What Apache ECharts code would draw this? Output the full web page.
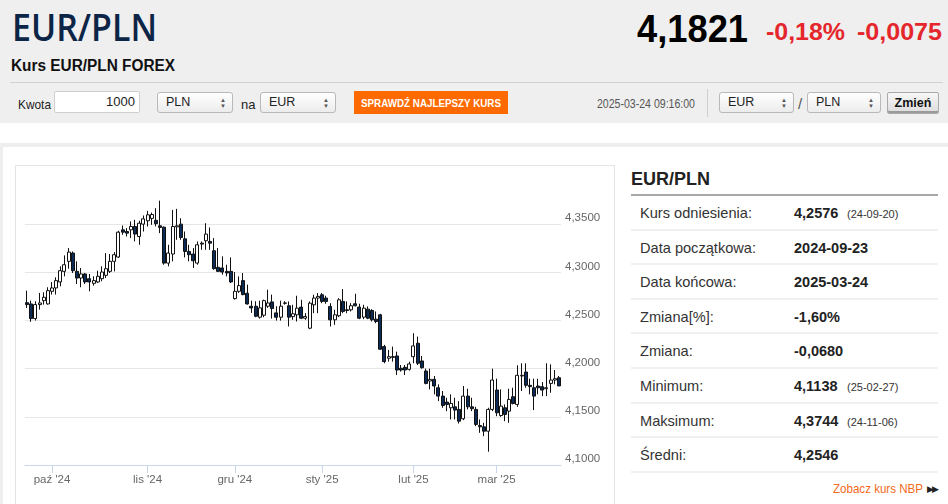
<!DOCTYPE html>
<html><head><meta charset="utf-8">
<script src="https://cdn.jsdelivr.net/npm/echarts/dist/echarts.min.js"></script>
<style>
html,body{margin:0;padding:0;}
body{width:948px;height:504px;overflow:hidden;position:relative;background:#fff;font-family:'Liberation Sans',Arial,sans-serif;color:#222;}
.a{position:absolute;white-space:nowrap;line-height:1;transform-origin:0 0;}
.sel{position:absolute;height:21px;box-sizing:border-box;border:1px solid #b9b9b9;border-radius:3px;background:linear-gradient(#ffffff,#ececec);font-size:12.5px;line-height:19px;padding-left:8px;color:#222;}
.sel .ar{position:absolute;right:6px;top:4px;font-size:6px;line-height:6px;color:#555;}
.row{position:absolute;left:631px;width:307px;height:34.6px;border-bottom:2px solid #f0f0f0;box-sizing:border-box;}
.row .l{position:absolute;left:9px;top:0;line-height:34px;font-size:14.6px;color:#333;}
.row .v{position:absolute;left:163px;top:0;line-height:34px;font-size:14.5px;font-weight:bold;color:#222;}
.row .s{position:absolute;left:216px;top:1px;line-height:34px;font-size:11px;color:#333;}
</style></head>
<body>
<div style="position:absolute;left:0;top:0;width:948px;height:123px;background:#efefef;"></div>
<div class="a fit" data-w="145" style="left:12px;top:8.4px;font-family:'Open Sans','Liberation Sans',sans-serif;font-size:37.5px;font-weight:600;color:#0c2446;">EUR/PLN</div>
<div class="a fit" data-w="111" style="left:637px;top:9px;font-size:39px;font-weight:bold;color:#000;">4,1821</div>
<div class="a fit" data-w="79" style="left:766px;top:20.5px;font-size:23px;font-weight:bold;color:#e5262d;">-0,18%</div>
<div class="a fit" data-w="85" style="left:857px;top:20.5px;font-size:23px;font-weight:bold;color:#e5262d;">-0,0075</div>
<div class="a fit" data-w="164" style="left:11px;top:57.5px;font-size:16px;font-weight:bold;color:#111;">Kurs EUR/PLN FOREX</div>
<div style="position:absolute;left:10px;top:82px;width:933px;height:1px;background:#d2d2d2;"></div>

<div class="a fit" data-w="33" style="left:18px;top:98px;font-size:13px;color:#222;">Kwota</div>
<div style="position:absolute;left:54px;top:91px;width:86px;height:22px;box-sizing:border-box;border:1px solid #cfcfcf;border-radius:2px;background:#fff;font-size:13px;line-height:20px;text-align:right;padding-right:4px;">1000</div>
<div class="sel" style="left:157px;top:92px;width:76px;">PLN<span class="ar">&#9650;<br>&#9660;</span></div>
<div class="a" style="left:241px;top:98px;font-size:13px;color:#222;">na</div>
<div class="sel" style="left:260px;top:92px;width:76px;">EUR<span class="ar">&#9650;<br>&#9660;</span></div>
<div style="position:absolute;left:354px;top:91px;width:154px;height:23px;background:#ff6a00;"></div>
<div class="a fit" data-w="140" style="left:361px;top:98px;font-size:11.5px;font-weight:bold;color:#fff;">SPRAWDŹ NAJLEPSZY KURS</div>
<div class="a fit" data-w="98" style="left:597px;top:98px;font-size:12px;color:#555;">2025-03-24 09:16:00</div>
<div style="position:absolute;left:707px;top:89px;width:1px;height:28px;background:#cfcfcf;"></div>
<div class="sel" style="left:719px;top:92px;width:75px;">EUR<span class="ar">&#9650;<br>&#9660;</span></div>
<div class="a" style="left:798px;top:96px;font-size:15px;color:#555;">/</div>
<div class="sel" style="left:807px;top:92px;width:74px;">PLN<span class="ar">&#9650;<br>&#9660;</span></div>
<div style="position:absolute;left:887px;top:92px;width:52px;height:22px;box-sizing:border-box;border:1px solid #aaa;border-radius:2px;background:linear-gradient(#f7f7f7,#dcdcdc);box-shadow:inset 0 -2px 0 #9a9a9a;font-size:12.5px;font-weight:bold;line-height:20px;text-align:center;color:#111;">Zmień</div>

<div style="position:absolute;left:0;top:143px;width:948px;height:4px;background:#eeeeee;"></div>
<div style="position:absolute;left:0;top:143px;width:3px;height:361px;background:#eeeeee;"></div>
<div style="position:absolute;left:15px;top:165px;width:600px;height:360px;box-sizing:border-box;border:1px solid #e4e4e4;"></div>
<div id="chart" style="position:absolute;left:16px;top:167px;width:598px;height:337px;"></div>

<div class="a" style="left:631px;top:169.8px;font-size:18px;font-weight:bold;color:#222;">EUR/PLN</div>
<div style="position:absolute;left:631px;top:194px;width:307px;height:2px;background:#a8a8a8;"></div>
<div id="tbl"></div>
<div class="a fit" data-w="90" style="left:833px;top:483px;font-size:12.8px;color:#f26a1b;">Zobacz kurs NBP</div>
<div class="a" style="left:927px;top:485px;font-size:9px;color:#222;letter-spacing:-2px;">&#9654;&#9654;</div>

<script>
// ---------- data ----------
const dates = [
"2024-09-23","2024-09-24","2024-09-25","2024-09-26","2024-09-27","2024-09-30",
"2024-10-01","2024-10-02","2024-10-03","2024-10-04","2024-10-07","2024-10-08","2024-10-09","2024-10-10","2024-10-11",
"2024-10-14","2024-10-15","2024-10-16","2024-10-17","2024-10-18","2024-10-21","2024-10-22","2024-10-23","2024-10-24","2024-10-25",
"2024-10-28","2024-10-29","2024-10-30","2024-10-31",
"2024-11-01","2024-11-04","2024-11-05","2024-11-06","2024-11-07","2024-11-08","2024-11-11","2024-11-12","2024-11-13","2024-11-14","2024-11-15",
"2024-11-18","2024-11-19","2024-11-20","2024-11-21","2024-11-22","2024-11-25","2024-11-26","2024-11-27","2024-11-28","2024-11-29",
"2024-12-02","2024-12-03","2024-12-04","2024-12-05","2024-12-06","2024-12-09","2024-12-10","2024-12-11","2024-12-12","2024-12-13",
"2024-12-16","2024-12-17","2024-12-18","2024-12-19","2024-12-20","2024-12-23","2024-12-24","2024-12-26","2024-12-27","2024-12-30","2024-12-31",
"2025-01-02","2025-01-03","2025-01-06","2025-01-07","2025-01-08","2025-01-09","2025-01-10","2025-01-13","2025-01-14","2025-01-15","2025-01-16","2025-01-17",
"2025-01-20","2025-01-21","2025-01-22","2025-01-23","2025-01-24","2025-01-27","2025-01-28","2025-01-29","2025-01-30","2025-01-31",
"2025-02-03","2025-02-04","2025-02-05","2025-02-06","2025-02-07","2025-02-10","2025-02-11","2025-02-12","2025-02-13","2025-02-14",
"2025-02-17","2025-02-18","2025-02-19","2025-02-20","2025-02-21","2025-02-24","2025-02-25","2025-02-26","2025-02-27","2025-02-28",
"2025-03-03","2025-03-04","2025-03-05","2025-03-06","2025-03-07","2025-03-10","2025-03-11","2025-03-12","2025-03-13","2025-03-14",
"2025-03-17","2025-03-18","2025-03-19","2025-03-20","2025-03-21","2025-03-24"];

const opens = [
4.2685,4.2672,4.2520,4.2665,4.2706,4.2672,4.2803,4.2838,4.2900,4.3010,
4.3114,4.3200,4.3010,4.2941,4.2983,4.2934,4.2886,4.2900,4.2934,4.2969,
4.3010,4.3114,4.3159,4.3441,4.3424,4.3441,4.3476,4.3372,4.3500,4.3535,
4.3560,4.3540,4.3483,4.3469,4.3096,4.3190,4.3472,4.3500,4.3348,4.3217,
4.3190,4.3096,4.3303,4.3328,4.3321,4.3224,4.3052,4.3045,4.3010,4.3010,
4.2727,4.2803,4.2914,4.2783,4.2648,4.2648,4.2534,4.2555,4.2648,4.2693,
4.2579,4.2534,4.2682,4.2653,4.2540,4.2559,4.2639,4.2524,4.2420,4.2663,
4.2733,4.2767,4.2733,4.2646,4.2507,4.2549,4.2698,4.2611,4.2611,4.2674,
4.2639,4.2535,4.2618,4.2604,4.2514,4.2559,4.2229,4.2108,4.2125,4.2132,
4.2004,4.2014,4.1993,4.2125,4.2264,4.2080,4.1976,4.1872,4.1889,4.1802,
4.1715,4.1653,4.1594,4.1604,4.1577,4.1480,4.1715,4.1604,4.1577,4.1410,
4.1396,4.1351,4.1577,4.1778,4.1514,4.1594,4.1559,4.1709,4.1629,4.1924,
4.1965,4.1827,4.1802,4.1820,4.1813,4.1792,4.1847,4.1882,4.1906];

const highs = [
4.2810,4.2706,4.2700,4.2786,4.2793,4.2845,4.2900,4.2948,4.3062,4.3176,
4.3252,4.3217,4.3114,4.3045,4.2993,4.2983,4.2959,4.3017,4.3062,4.3200,
4.3190,4.3210,4.3431,4.3486,4.3459,4.3528,4.3545,4.3535,4.3590,4.3638,
4.3620,4.3666,4.3744,4.3476,4.3286,4.3648,4.3659,4.3562,4.3424,4.3286,
4.3252,4.3320,4.3320,4.3510,4.3466,4.3355,4.3252,4.3166,4.3079,4.3155,
4.3003,4.2958,4.2993,4.2872,4.2706,4.2700,4.2706,4.2717,4.2820,4.2769,
4.2648,4.2706,4.2700,4.2698,4.2663,4.2757,4.2715,4.2576,4.2698,4.2767,
4.2785,4.2785,4.2757,4.2680,4.2611,4.2732,4.2826,4.2698,4.2680,4.2778,
4.2674,4.2663,4.2646,4.2618,4.2594,4.2569,4.2247,4.2195,4.2229,4.2177,
4.2038,4.2038,4.2073,4.2368,4.2333,4.2132,4.2000,4.2000,4.1924,4.1837,
4.1768,4.1698,4.1733,4.1698,4.1663,4.1820,4.1792,4.1698,4.1604,4.1473,
4.1438,4.1594,4.2000,4.1896,4.1785,4.1629,4.1792,4.1802,4.2035,4.2056,
4.2056,4.1896,4.1896,4.1896,4.1861,4.2056,4.2045,4.1986,4.1924];

const lows = [
4.2630,4.2486,4.2500,4.2613,4.2665,4.2665,4.2769,4.2769,4.2855,4.2958,
4.3038,4.2993,4.2879,4.2845,4.2879,4.2803,4.2862,4.2889,4.2907,4.2941,
4.2993,4.3010,4.3148,4.3390,4.3372,4.3355,4.3321,4.3286,4.3424,4.3476,
4.3493,4.3476,4.3407,4.3079,4.3062,4.3114,4.3338,4.3338,4.3155,4.3114,
4.3045,4.3079,4.3234,4.3234,4.3234,4.3027,4.3003,4.2976,4.2958,4.2889,
4.2717,4.2786,4.2762,4.2665,4.2579,4.2534,4.2520,4.2534,4.2631,4.2520,
4.2499,4.2499,4.2665,4.2438,4.2507,4.2490,4.2514,4.2507,4.2410,4.2576,
4.2576,4.2680,4.2674,4.2438,4.2455,4.2535,4.2576,4.2576,4.2594,4.2646,
4.2514,4.2514,4.2514,4.2490,4.2472,4.2195,4.2056,4.2073,4.2073,4.1934,
4.1969,4.1934,4.1979,4.2056,4.2038,4.2000,4.1837,4.1785,4.1733,4.1663,
4.1594,4.1559,4.1473,4.1473,4.1431,4.1466,4.1577,4.1559,4.1403,4.1334,
4.1299,4.1138,4.1559,4.1507,4.1500,4.1455,4.1438,4.1629,4.1604,4.1768,
4.1802,4.1733,4.1570,4.1733,4.1715,4.1715,4.1750,4.1837,4.1820];

const closes = [
4.2665,4.2520,4.2665,4.2682,4.2741,4.2810,4.2838,4.2914,4.3017,4.3079,
4.3210,4.3017,4.2941,4.2983,4.2900,4.2900,4.2914,4.2959,4.3003,4.3038,
4.3114,4.3183,4.3417,4.3417,4.3407,4.3476,4.3397,4.3510,4.3555,4.3597,
4.3600,4.3505,4.3466,4.3096,4.3200,4.3476,4.3483,4.3362,4.3217,4.3183,
4.3120,4.3286,4.3293,4.3397,4.3303,4.3038,4.3010,4.3003,4.2993,4.2900,
4.2803,4.2862,4.2769,4.2672,4.2630,4.2544,4.2631,4.2706,4.2682,4.2624,
4.2534,4.2648,4.2679,4.2535,4.2570,4.2628,4.2524,4.2542,4.2680,4.2733,
4.2750,4.2698,4.2698,4.2507,4.2559,4.2715,4.2594,4.2604,4.2653,4.2653,
4.2524,4.2628,4.2524,4.2507,4.2490,4.2202,4.2073,4.2125,4.2118,4.1986,
4.1986,4.1986,4.2049,4.2236,4.2056,4.2010,4.1847,4.1889,4.1820,4.1715,
4.1618,4.1629,4.1639,4.1570,4.1455,4.1715,4.1604,4.1584,4.1421,4.1396,
4.1351,4.1577,4.1882,4.1542,4.1611,4.1525,4.1681,4.1639,4.1931,4.1931,
4.1827,4.1813,4.1715,4.1802,4.1778,4.1802,4.1882,4.1896,4.1821];

const monthStartDates = ["2024-10-01","2024-11-01","2024-12-02","2025-01-02","2025-02-03","2025-03-03"];
const monthLabels = ["paź '24","lis '24","gru '24","sty '25","lut '25","mar '25"];
const yMin = 4.10, yMax = 4.40, yStep = 0.05;

const tableLabels = ["Kurs odniesienia:","Data początkowa:","Data końcowa:","Zmiana[%]:","Zmiana:","Minimum:","Maksimum:","Średni:"];
const tableValues = ["4,2576","2024-09-23","2025-03-24","-1,60%","-0,0680","4,1138","4,3744","4,2546"];
const tableNotes  = ["(24-09-20)","","","","","(25-02-27)","(24-11-06)",""];

// ---------- table ----------
const tbl = document.getElementById('tbl');
tableLabels.forEach((lab, k) => {
  const r = document.createElement('div');
  r.className = 'row';
  r.style.top = (196 + k * 34.6) + 'px';
  r.innerHTML = '<span class="l">' + lab + '</span><span class="v">' + tableValues[k] + '</span>' +
    (tableNotes[k] ? '<span class="s">' + tableNotes[k] + '</span>' : '');
  tbl.appendChild(r);
});

// ---------- fit header texts ----------
document.querySelectorAll('.fit').forEach(el => {
  const w = el.getBoundingClientRect().width;
  const t = parseFloat(el.dataset.w);
  if (w > 0) el.style.transform = 'scaleX(' + (t / w) + ')';
});

// ---------- chart ----------
const isStart = (v) => monthStartDates.indexOf(v) >= 0;
const chart = echarts.init(document.getElementById('chart'), null, {renderer: 'canvas'});
chart.setOption({
  animation: false,
  textStyle: {fontFamily: 'Liberation Sans, Arial, sans-serif'},
  grid: {left: 9, top: 9, width: 536, height: 289},
  xAxis: {
    type: 'category',
    data: dates,
    boundaryGap: true,
    axisLine: {show: true, lineStyle: {color: '#ccd6eb', width: 1}},
    axisTick: {show: true, alignWithLabel: true, length: 8,
      interval: (i, v) => isStart(v), lineStyle: {color: '#ccd6eb'}},
    axisLabel: {interval: (i, v) => isStart(v),
      formatter: (v) => monthLabels[monthStartDates.indexOf(v)] || '',
      color: '#666', fontSize: 11.5, margin: 9},
    splitLine: {show: false}
  },
  yAxis: {
    type: 'value',
    position: 'right',
    min: yMin, max: yMax, interval: yStep,
    axisLine: {show: false},
    axisTick: {show: false},
    axisLabel: {formatter: (v) => v.toFixed(4).replace('.', ','), showMaxLabel: false,
      color: '#666', fontSize: 11.5, align: 'left', verticalAlign: 'bottom', margin: 4, lineHeight: 12},
    splitLine: {show: true, lineStyle: {width: 1,
      color: ['rgba(0,0,0,0)','#e6e6e6','#e6e6e6','#e6e6e6','#e6e6e6','#e6e6e6','rgba(0,0,0,0)']}}
  },
  series: [{
    type: 'candlestick',
    data: opens.map((o, i) => [o, closes[i], lows[i], highs[i]]),
    barWidth: 3.5,
    itemStyle: {color: '#ffffff', color0: '#0b2a55', borderColor: '#111', borderColor0: '#111', borderWidth: 1},
    emphasis: {disabled: true}
  }]
});
</script>
</body></html>
